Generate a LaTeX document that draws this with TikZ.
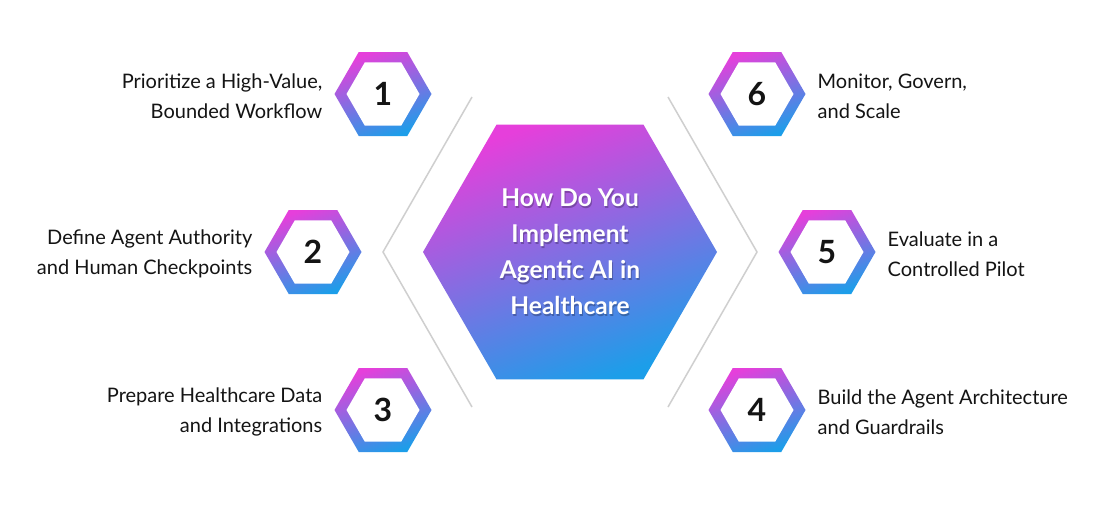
\documentclass[tikz,border=0pt]{standalone}
\usepackage{fontspec}
\setmainfont{Lato}
\usetikzlibrary{shapes.geometric}
\definecolor{pinkc}{HTML}{E63FDB}
\definecolor{bluec}{HTML}{1C9EE9}
\definecolor{txtc}{HTML}{141414}
\definecolor{linec}{HTML}{CFCFCF}
\tikzset{
  hexbase/.style={regular polygon, regular polygon sides=6, inner sep=0pt, outer sep=0pt},
  hexring/.style={hexbase, minimum size=97pt, top color=pinkc, bottom color=bluec, shading angle=20},
  hexhole/.style={hexbase, minimum size=73pt, fill=white, font=\fontsize{32}{32}\selectfont\bfseries, text=txtc},
  lbl/.style={font=\fontsize{20}{30}\selectfont, text=txtc, inner sep=0pt},
  lblL/.style={lbl, anchor=east, align=right},
  lblR/.style={lbl, anchor=west, align=left},
  guideline/.style={draw=linec, line width=1.5pt},
  ctext/.style={font=\fontsize{24.5}{36}\selectfont\bfseries, align=center, inner sep=0pt},
}
\begin{document}
\begin{tikzpicture}[x=1pt,y=-1pt]
\useasboundingbox[fill=white] (0,0) rectangle (1108,528);
% guide chevrons
\coordinate (lt) at (472,97);
\coordinate (la) at (383,252);
\coordinate (lb) at (472,407);
\coordinate (rt) at (668,97);
\coordinate (ra) at (757,252);
\coordinate (rb) at (668,407);
\draw[guideline] (lt) -- (la) -- (lb);
\draw[guideline] (rt) -- (ra) -- (rb);
% central hexagon
\node[hexbase, minimum size=294pt, top color=pinkc, bottom color=bluec, shading angle=20] (center) at (570,252) {};
\node[ctext, text=black, opacity=.25] (cshadow) at ([shift={(1pt,-1.5pt)}]center) {How Do You\\Implement\\Agentic AI in\\Healthcare};
\node[ctext, text=white] (ctitle) at (center) {How Do You\\Implement\\Agentic AI in\\Healthcare};
% step hexagons
\node[hexring] (h1) at (383,94) {};
\node[hexhole] (n1) at (h1) {1};
\node[hexring] (h2) at (313,252) {};
\node[hexhole] (n2) at (h2) {2};
\node[hexring] (h3) at (383,410) {};
\node[hexhole] (n3) at (h3) {3};
\node[hexring] (h6) at (757,94) {};
\node[hexhole] (n6) at (h6) {6};
\node[hexring] (h5) at (827,252) {};
\node[hexhole] (n5) at (h5) {5};
\node[hexring] (h4) at (757,410) {};
\node[hexhole] (n4) at (h4) {4};
% labels
\node[lblL] (t1) at ([xshift=-12pt,yshift=-2pt]h1.west) {Prioritize a High-Value,\\Bounded Workflow};
\node[lblL] (t2) at ([xshift=-12pt,yshift=-2pt]h2.west) {Define Agent Authority\\and Human Checkpoints};
\node[lblL] (t3) at ([xshift=-12pt,yshift=-2pt]h3.west) {Prepare Healthcare Data\\and Integrations};
\node[lblR] (t6) at ([xshift=12pt,yshift=-2pt]h6.east) {Monitor, Govern,\\and Scale};
\node[lblR] (t5) at ([xshift=12pt,yshift=-2pt]h5.east) {Evaluate in a\\Controlled Pilot};
\node[lblR] (t4) at ([xshift=12pt,yshift=-2pt]h4.east) {Build the Agent Architecture\\and Guardrails};
\end{tikzpicture}
\end{document}
